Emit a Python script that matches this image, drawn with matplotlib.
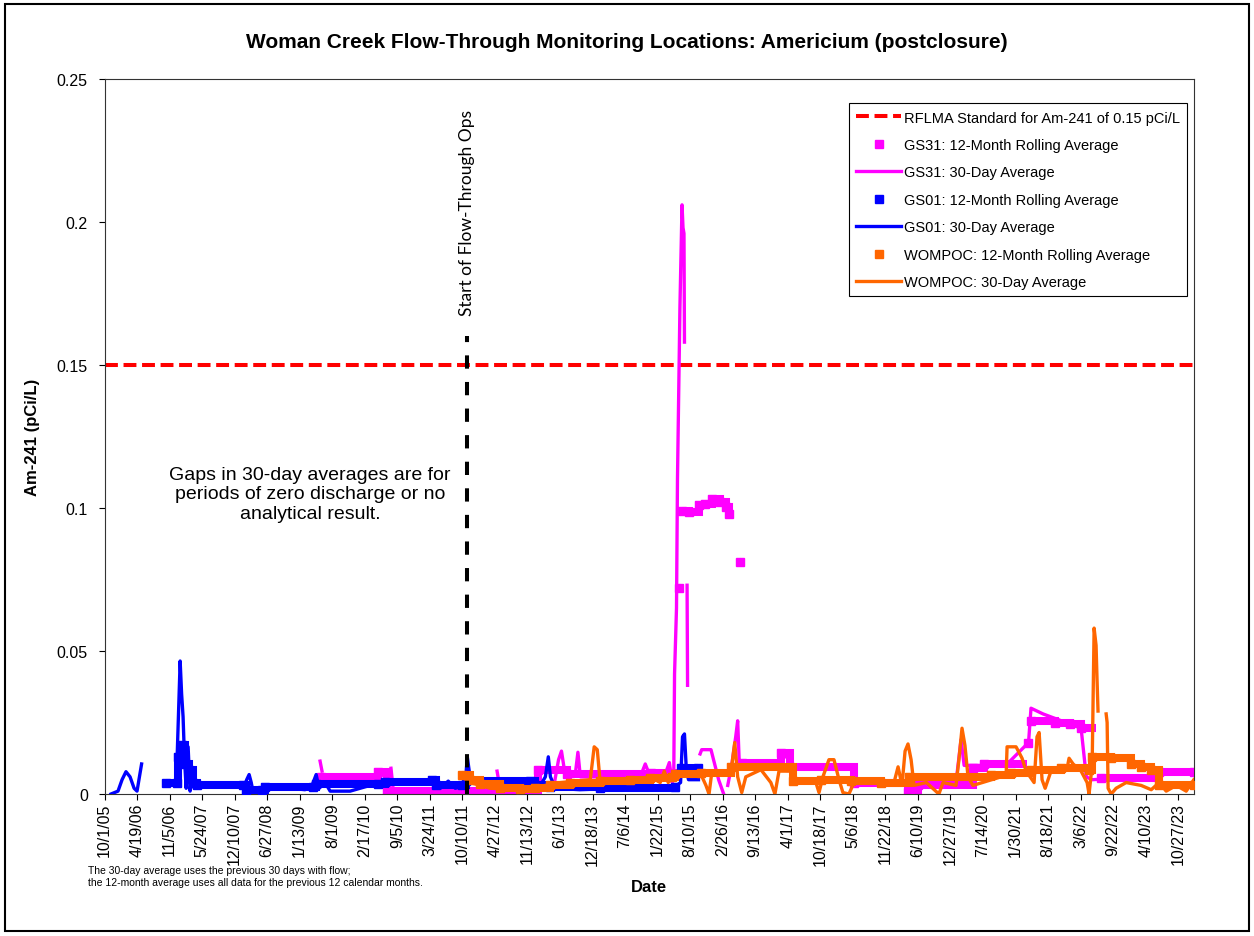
import numpy as np
import pandas as pd
import matplotlib
matplotlib.use('Agg')
import matplotlib.pyplot as plt
from matplotlib.lines import Line2D
from matplotlib.patches import Rectangle

nan = np.nan

# RFLMA standard and start of flow-through operations
standard = 0.15
flow_through_start = '2011-11-05'
flow_through_top = 0.16

# GS01: 30-day average
gs01_30_dates = ['2005-11-10', '2005-12-23', '2006-01-17', '2006-02-10', '2006-03-07', '2006-04-01',
                 '2006-04-19', '2006-05-17', '2006-06-01', '2006-12-21', '2007-01-09', '2007-01-18',
                 '2007-01-27', '2007-02-05', '2007-02-15', '2007-02-27', '2007-03-11', '2007-03-23',
                 '2007-04-05', '2007-04-23', '2007-07-12', '2007-11-12', '2008-02-06', '2008-02-22',
                 '2008-03-08', '2008-03-21', '2008-04-02', '2008-05-27', '2008-06-14', '2008-11-15',
                 '2009-02-15', '2009-03-30', '2009-04-24', '2009-05-12', '2009-06-18', '2009-07-19',
                 '2009-11-19', '2010-01-19', '2010-04-22', '2010-06-22', '2010-09-22', '2011-03-26',
                 '2011-05-27', '2011-07-15', '2011-08-27', '2011-10-27', '2011-11-09', '2011-11-21',
                 '2011-12-03', '2012-01-28', '2012-05-30', '2012-09-30', '2013-01-31', '2013-03-03',
                 '2013-03-21', '2013-04-03', '2013-05-03', '2013-10-01', '2014-06-01', '2014-12-01',
                 '2015-04-23', '2015-06-12', '2015-06-24', '2015-07-06', '2015-07-18', '2015-07-31',
                 '2015-09-30']
gs01_30_vals = [0.0, 0.001, 0.005, 0.0078, 0.006, 0.002,
                0.001, 0.0105, nan, 0.012, 0.0465, 0.035,
                0.027, 0.012, 0.002, 0.0165, 0.001, 0.008,
                0.002, 0.003, 0.003, 0.003, 0.0025, 0.005,
                0.0068, 0.004, 0.0005, 0.0005, 0.002, 0.002,
                0.0015, 0.003, 0.0068, 0.002, 0.004, 0.001,
                0.001, 0.002, 0.0035, 0.004, 0.0045, 0.005,
                0.002, 0.0045, 0.002, 0.003, 0.013, 0.008,
                0.004, 0.004, 0.004, 0.0035, 0.003, 0.006,
                0.013, 0.006, 0.002, 0.0015, 0.002, 0.0015,
                0.002, 0.004, 0.02, 0.021, 0.008, 0.005,
                0.005]

# GS01: 12-month rolling average
gs01_12_dates = ['2006-10-14', '2006-12-20', '2006-12-24', '2007-01-18', '2007-02-08', '2007-03-05',
                 '2007-03-30', '2007-04-23', '2008-01-31', '2008-02-16', '2008-05-27', '2008-06-14',
                 '2009-04-05', '2009-04-24', '2010-05-10', '2010-06-22', '2011-04-07', '2011-05-02',
                 '2011-10-09', '2011-11-03', '2012-11-30', '2012-12-31', '2013-04-03', '2014-02-03',
                 '2015-05-06', '2015-05-20', '2015-06-12', '2015-09-30']
gs01_12_vals = [0.0037, 0.0037, 0.013, 0.017, 0.0105, 0.0085,
                0.004, 0.003, 0.003, 0.0013, 0.0013, 0.0025,
                0.0025, 0.0035, 0.0035, 0.0043, 0.005, 0.003,
                0.003, 0.0045, 0.0045, 0.003, 0.0025, 0.002,
                0.0025, nan, 0.009, 0.009]

# GS31: 30-day average
gs31_30_dates = ['2009-05-18', '2009-05-30', '2009-06-05', '2010-07-28', '2010-08-08', '2010-08-15',
                 '2012-05-10', '2012-05-25', '2012-06-01', '2013-04-28', '2013-05-23', '2013-06-10',
                 '2013-06-29', '2013-09-03', '2013-09-19', '2013-10-04', '2014-02-03', '2014-10-07',
                 '2014-11-07', '2014-12-08', '2015-03-10', '2015-04-04', '2015-04-22', '2015-05-01',
                 '2015-05-06', '2015-05-18', '2015-05-24', '2015-06-08', '2015-06-21', '2015-06-27',
                 '2015-07-03', '2015-07-06', '2015-07-10', '2015-07-22', '2015-07-25', '2015-07-28',
                 '2015-10-10', '2015-10-20', '2015-12-16', '2016-02-01', '2016-03-03', '2016-03-10',
                 '2016-03-28', '2016-04-21', '2016-05-16', '2016-05-28', '2016-06-06', '2016-07-01',
                 '2017-02-18', '2017-03-10', '2017-05-01', '2018-05-01', '2018-06-01', '2019-05-01',
                 '2019-05-11', '2019-06-01', '2020-02-01', '2020-03-01', '2020-03-20', '2020-12-01',
                 '2021-04-20', '2021-05-05', '2021-07-18', '2022-03-09', '2022-04-10', '2022-05-15',
                 '2023-05-01', '2023-06-28', '2024-01-31']
gs31_30_vals = [0.0115, 0.008, nan, 0.009, 0.003, nan,
                0.008, 0.003, nan, 0.004, 0.012, 0.015,
                0.008, 0.007, 0.0146, 0.006, 0.006, 0.006,
                0.0105, 0.006, 0.007, 0.011, 0.004, 0.005,
                0.042, 0.065, 0.11, 0.17, 0.206, 0.198,
                0.196, 0.158, nan, 0.073, 0.038, nan,
                0.014, 0.0155, 0.0155, 0.005, 0.0, nan,
                0.003, 0.01, 0.02, 0.0256, 0.012, 0.011,
                0.011, 0.014, 0.01, 0.009, 0.004, 0.004,
                0.0, 0.004, 0.005, 0.019, 0.01, 0.01,
                0.018, 0.030, 0.028, 0.023, 0.006, 0.005,
                0.006, 0.008, 0.008]

# GS31: 12-month rolling average
gs31_12_dates = ['2009-05-24', '2010-05-10', '2010-07-01', '2013-01-15', '2013-07-15', '2014-12-15',
                 '2015-05-20', '2015-06-05', '2015-06-12', '2015-06-18', '2015-08-01', '2015-10-01',
                 '2015-11-10', '2015-12-20', '2016-02-10', '2016-03-15', '2016-04-05', '2016-05-01',
                 '2016-06-10', '2016-06-20', '2016-06-25', '2017-02-18', '2017-04-14', '2018-05-14',
                 '2019-04-10', '2019-06-10', '2020-05-13', '2020-07-20', '2021-04-10', '2021-04-17',
                 '2021-04-30', '2021-05-05', '2021-10-01', '2022-01-01', '2022-03-09', '2022-06-09',
                 '2022-07-10', '2023-06-28', '2024-01-31']
gs31_12_vals = [0.006, 0.0078, 0.0012, 0.0085, 0.007, 0.0075,
                nan, 0.072, nan, 0.099, 0.0985, 0.101,
                0.1015, 0.103, 0.102, 0.1005, 0.098, nan,
                0.081, nan, 0.011, 0.0145, 0.0095, 0.004,
                0.0008, 0.003, 0.009, 0.0105, nan, 0.018,
                nan, 0.0255, 0.025, 0.0245, 0.023, nan,
                0.0055, 0.0078, 0.0078]

# WOMPOC: 30-day average
wompoc_30_dates = ['2011-10-09', '2011-11-27', '2012-03-29', '2012-09-30', '2013-03-03', '2013-06-03',
                   '2013-12-04', '2013-12-28', '2014-01-16', '2014-02-03', '2014-08-07', '2014-12-08',
                   '2015-02-07', '2015-03-04', '2015-03-28', '2015-05-11', '2015-08-14', '2015-10-14',
                   '2015-11-15', '2015-12-04', '2015-12-22', '2016-03-15', '2016-04-21', '2016-05-10',
                   '2016-05-28', '2016-06-22', '2016-07-17', '2016-10-18', '2016-12-18', '2017-01-12',
                   '2017-02-06', '2017-05-03', '2017-05-21', '2017-09-21', '2017-10-10', '2017-11-03',
                   '2017-12-10', '2018-01-10', '2018-02-10', '2018-03-06', '2018-04-12', '2018-05-13',
                   '2018-08-26', '2019-01-14', '2019-02-08', '2019-03-04', '2019-03-23', '2019-04-10',
                   '2019-04-29', '2019-05-17', '2019-08-01', '2019-10-17', '2019-11-11', '2020-01-30',
                   '2020-02-17', '2020-03-07', '2020-03-25', '2020-04-13', '2020-05-13', '2020-11-02',
                   '2020-12-03', '2020-12-09', '2021-02-02', '2021-02-21', '2021-03-11', '2021-04-05',
                   '2021-05-24', '2021-06-11', '2021-06-24', '2021-07-12', '2021-07-31', '2021-09-05',
                   '2021-12-13', '2021-12-25', '2022-01-19', '2022-03-09', '2022-04-15', '2022-04-27',
                   '2022-05-16', '2022-05-28', '2022-06-09', '2022-06-15', '2022-06-21', '2022-07-10',
                   '2022-08-10', '2022-08-16', '2022-08-22', '2022-09-10', '2022-10-10', '2022-12-11',
                   '2023-03-13', '2023-05-14', '2023-07-02', '2023-08-14', '2023-10-15', '2023-12-15',
                   '2024-01-31']
wompoc_30_vals = [0.006, 0.004, 0.002, 0.0015, 0.003, 0.004,
                  0.005, 0.0165, 0.0155, 0.004, 0.005, 0.006,
                  0.004, 0.008, 0.004, 0.007, 0.0075, 0.007,
                  0.003, 0.0, 0.008, 0.007, 0.0095, 0.018,
                  0.006, 0.0005, 0.006, 0.0085, 0.004, 0.0,
                  0.008, 0.008, 0.004, 0.004, 0.0005, 0.006,
                  0.012, 0.012, 0.005, 0.0005, 0.0, 0.004,
                  0.004, 0.004, 0.0095, 0.003, 0.015, 0.0175,
                  0.012, 0.003, 0.004, 0.0, 0.004, 0.003,
                  0.012, 0.023, 0.017, 0.006, 0.003, 0.006,
                  0.0065, 0.0165, 0.0165, 0.0145, 0.0125, 0.008,
                  0.004, 0.02, 0.0215, 0.005, 0.002, 0.008,
                  0.009, 0.0125, 0.0105, 0.008, 0.004, 0.0,
                  0.01, 0.058, 0.052, 0.04, 0.029, nan,
                  0.028, 0.025, 0.002, 0.0, 0.002, 0.004,
                  0.003, 0.0015, 0.004, 0.001, 0.003, 0.001,
                  0.005]

# WOMPOC: 12-month rolling average
wompoc_12_dates = ['2011-10-09', '2011-11-27', '2012-01-28', '2012-05-30', '2012-09-30', '2012-12-31',
                   '2013-04-03', '2013-08-04', '2014-02-03', '2014-08-07', '2014-12-08', '2015-04-22',
                   '2015-05-11', '2015-10-14', '2016-04-15', '2017-05-03', '2017-10-22', '2018-04-25',
                   '2018-10-26', '2019-04-17', '2020-09-01', '2021-01-02', '2021-05-05', '2021-11-06',
                   '2022-04-27', '2022-05-16', '2022-09-10', '2023-01-11', '2023-03-15', '2023-05-14',
                   '2023-06-28', '2024-01-31']
wompoc_12_vals = [0.0065, 0.005, 0.0035, 0.0022, 0.0018, 0.002,
                  0.0032, 0.004, 0.0047, 0.005, 0.0055, 0.006,
                  0.007, 0.0072, 0.0094, 0.0045, 0.005, 0.0045,
                  0.004, 0.006, 0.0065, 0.0075, 0.0085, 0.009,
                  0.0085, 0.013, 0.0125, 0.0105, 0.0095, 0.0085,
                  0.003, 0.003]

x_start = pd.Timestamp('2005-10-01')
x_end = pd.Timestamp('2024-02-01')
tick_dates = pd.date_range(x_start, periods=34, freq='200D')
y_ticks = [0, 0.05, 0.1, 0.15, 0.2, 0.25]
y_ticklabels = ['0', '0.05', '0.1', '0.15', '0.2', '0.25']

magenta = '#FF00FF'
blue = '#0000FF'
orange = '#FF6600'
red = '#FF0000'

plt.rcParams['font.family'] = ['Liberation Sans', 'DejaVu Sans']

fig = plt.figure(figsize=(12.54, 9.37), dpi=100)
ax = fig.add_axes([104.5 / 1254, 1 - 795 / 937, (1194 - 104.5) / 1254, (795 - 80) / 937])

# standard
ax.axhline(standard, color=red, lw=2.9, dashes=(3.2, 1.4), zorder=1)

band_kw = dict(lw=5.8, marker='s', ms=5.8, drawstyle='steps-post',
               solid_joinstyle='miter', solid_capstyle='butt')
line_kw = dict(lw=2.4, solid_joinstyle='round')

ax.plot(pd.to_datetime(gs31_12_dates), gs31_12_vals, color=magenta, zorder=2, **band_kw)
ax.plot(pd.to_datetime(gs31_30_dates), gs31_30_vals, color=magenta, zorder=3, **line_kw)
ax.plot(pd.to_datetime(gs01_12_dates), gs01_12_vals, color=blue, zorder=4, **band_kw)
ax.plot(pd.to_datetime(gs01_30_dates), gs01_30_vals, color=blue, zorder=5, **line_kw)
ax.plot(pd.to_datetime(wompoc_12_dates), wompoc_12_vals, color=orange, zorder=6, **band_kw)
ax.plot(pd.to_datetime(wompoc_30_dates), wompoc_30_vals, color=orange, zorder=7, **line_kw)

# start of flow-through ops
ft = pd.Timestamp(flow_through_start)
ax.plot([ft, ft], [0, flow_through_top], color='black', lw=2.9, dashes=(3.3, 3.3), zorder=8)
ax.text(ft, 0.2035, 'Start of Flow-Through Ops', rotation=90, ha='center', va='center',
        fontsize=12.5, family=['Lato', 'DejaVu Sans'])

ax.text(0.1886, 0.4196, 'Gaps in 30-day averages are for\nperiods of zero discharge or no\nanalytical result.',
        transform=ax.transAxes, ha='center', va='center', fontsize=14, linespacing=1.2)

ax.set_xlim(x_start, x_end)
ax.set_ylim(0, 0.25)
ax.set_xticks(tick_dates)
ax.set_xticklabels([f'{d.month}/{d.day}/{d:%y}' for d in tick_dates], rotation=90, fontsize=11.5)
ax.set_yticks(y_ticks)
ax.set_yticklabels(y_ticklabels, fontsize=11.5)
ax.tick_params(axis='x', direction='out', length=4, width=0.8, pad=2)
ax.tick_params(axis='y', direction='out', length=4, width=0.8, pad=8)
for s in ax.spines.values():
    s.set_linewidth(0.8)
    s.set_color('#333333')

fig.text(0.5, 1 - 43 / 937, 'Woman Creek Flow-Through Monitoring Locations: Americium (postclosure)',
         ha='center', va='center', fontsize=15, fontweight='bold')
fig.text(33 / 1254, 1 - 437 / 937, 'Am-241 (pCi/L)', rotation=90, ha='center', va='center',
         fontsize=12, fontweight='bold')
fig.text(649 / 1254, 1 - 888 / 937, 'Date', ha='center', va='center', fontsize=12, fontweight='bold')
fig.text(88 / 1254, 1 - 877 / 937,
         'The 30-day average uses the previous 30 days with flow;\n'
         'the 12-month average uses all data for the previous 12 calendar months.',
         ha='left', va='center', fontsize=7.5, linespacing=1.3)

handles = [
    Line2D([], [], color=red, lw=2.9, dashes=(3.2, 1.4)),
    Line2D([], [], color=magenta, ls='none', marker='s', ms=6),
    Line2D([], [], color=magenta, lw=2.4),
    Line2D([], [], color=blue, ls='none', marker='s', ms=6),
    Line2D([], [], color=blue, lw=2.4),
    Line2D([], [], color=orange, ls='none', marker='s', ms=6),
    Line2D([], [], color=orange, lw=2.4),
]
labels = ['RFLMA Standard for Am-241 of 0.15 pCi/L',
          'GS31: 12-Month Rolling Average', 'GS31: 30-Day Average',
          'GS01: 12-Month Rolling Average', 'GS01: 30-Day Average',
          'WOMPOC: 12-Month Rolling Average', 'WOMPOC: 30-Day Average']
leg = ax.legend(handles, labels, loc='upper right', bbox_to_anchor=(0.994, 0.966), fontsize=10.5,
                frameon=True, fancybox=False, edgecolor='black', framealpha=1, borderaxespad=0,
                handlelength=3.1, handletextpad=0.2, labelspacing=0.92, borderpad=0.5)
leg.get_frame().set_linewidth(0.8)

fig.patches.append(Rectangle((0.004, 0.005), 0.992, 0.99, transform=fig.transFigure,
                             fill=False, lw=1.5, ec='black'))

fig.savefig('out.png', dpi=100)
